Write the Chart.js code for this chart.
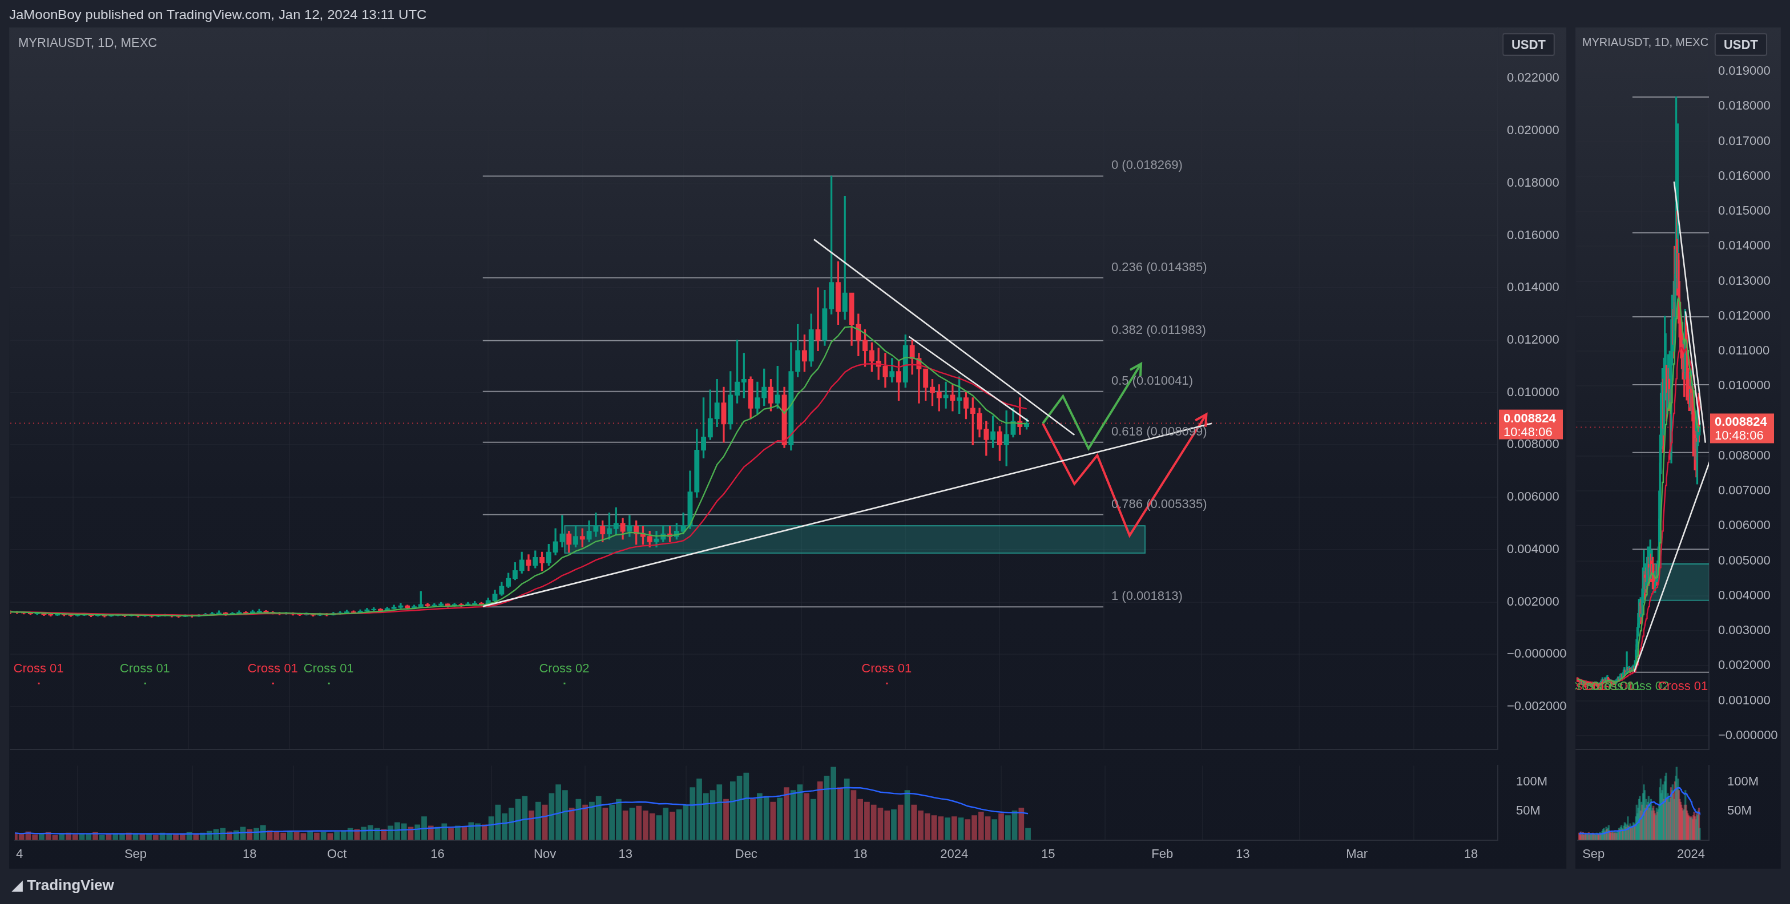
<!DOCTYPE html>
<html>
<head>
<meta charset="utf-8">
<script src="https://cdn.jsdelivr.net/npm/chart.js@4.4.1/dist/chart.umd.min.js"></script>
<style>
  html, body { margin: 0; padding: 0; background: #1e222d; overflow: hidden; }
  #wrap { position: absolute; left: 0; top: 0; width: 1568px; height: 792px; transform: scale(1.14158); transform-origin: 0 0;
          font-family: "Liberation Sans", "DejaVu Sans", sans-serif; color: #d1d4dc; }
  .pane { position: absolute; background: linear-gradient(#2a2e39, #161a25 55%, #131722); }
  .box { position: absolute; }
  .t { position: absolute; white-space: nowrap; }
  .btn { position: absolute; border: 1px solid #434651; background: #1e222d; color: #d1d4dc; font-size: 11px; font-weight: bold;
         padding: 3px 7px; border-radius: 2px; }
</style>
</head>
<body>
<div id="wrap">
  <div class="t" style="left:8px;top:6px;font-size:12px;">JaMoonBoy published on TradingView.com, Jan 12, 2024 13:11 UTC</div>
  <div class="pane" style="left:8px;top:24px;width:1364px;height:737px;"></div>
  <div class="pane" style="left:1380px;top:24px;width:180px;height:737px;"></div>
  <div class="box" style="left:8px;top:10px;width:1364px;height:661px;"><canvas id="main"></canvas></div>
  <div class="box" style="left:8px;top:656px;width:1364px;height:105px;"><canvas id="vol"></canvas></div>
  <div class="box" style="left:1380px;top:10px;width:180px;height:661px;"><canvas id="mini"></canvas></div>
  <div class="box" style="left:1380px;top:656px;width:180px;height:105px;"><canvas id="minivol"></canvas></div>
  <div class="t" style="left:16px;top:31px;font-size:11px;color:#b2b5be;">MYRIAUSDT, 1D, MEXC</div>
  <div class="t" style="left:1386px;top:31px;font-size:10px;color:#b2b5be;">MYRIAUSDT, 1D, MEXC</div>
  <div class="btn" style="left:1316px;top:29px;">USDT</div>
  <div class="btn" style="left:1502px;top:29px;">USDT</div>
  <div class="t" style="left:10px;top:768px;font-size:13px;font-weight:bold;color:#d1d4dc;">&#x25E2; TradingView</div>
</div>
<script>
// day index: 0 = 1 Sep 2023, first candle 14 Aug, last 12 Jan
const firstDay = -18;
// values in thousandths of USDT
const closes = [
  1.62,1.60,1.58,1.55,1.57,1.52,1.50,1.53,1.51,1.49,1.50,1.52,1.48,1.50,1.47,1.49,1.51,1.48,
  1.50,1.47,1.49,1.46,1.48,1.50,1.47,1.45,1.48,1.46,1.49,1.52,1.55,1.58,1.53,1.56,1.60,1.57,1.62,1.65,1.60,1.58,1.55,1.57,1.54,1.52,1.55,1.50,1.53,1.51,
  1.55,1.58,1.62,1.60,1.65,1.70,1.72,1.68,1.75,1.80,1.85,1.78,1.82,1.90,1.86,1.88,1.92,1.85,1.90,1.87,1.92,1.95,1.90,2.05,2.30,2.60,2.90,3.20,3.60,3.40,3.70,
  3.50,3.90,4.30,4.60,4.20,4.50,4.40,4.70,4.90,4.60,4.80,5.00,4.70,4.90,4.60,4.50,4.30,4.40,4.60,4.50,4.70,4.90,6.20,7.80,8.30,9.00,9.60,8.80,9.90,10.40,
  10.50,9.40,9.80,10.20,9.60,9.90,8.00,10.80,11.60,11.20,12.40,12.00,13.20,14.20,13.10,13.80,12.60,12.00,11.60,11.20,11.00,10.60,10.80,10.40,11.80,11.30,10.90,10.20,10.00,9.80,9.90,
  9.70,9.80,9.40,9.20,8.60,8.20,8.50,8.00,8.40,8.90,8.70,8.82
];
const highs = [
  1.66,1.64,1.62,1.60,1.60,1.58,1.55,1.56,1.55,1.53,1.54,1.56,1.54,1.53,1.52,1.53,1.54,1.53,
  1.54,1.52,1.52,1.50,1.51,1.53,1.52,1.49,1.51,1.50,1.52,1.56,1.60,1.66,1.60,1.60,1.66,1.63,1.68,1.72,1.67,1.63,1.60,1.60,1.59,1.57,1.58,1.56,1.57,1.56,
  1.60,1.63,1.68,1.66,1.70,1.76,1.78,1.75,1.80,1.88,1.95,1.88,1.88,2.40,1.95,1.94,1.98,1.93,1.95,1.94,1.98,2.02,1.98,2.15,2.45,2.75,3.10,3.50,3.90,3.80,3.95,
  3.90,4.20,4.80,5.30,4.70,4.90,4.80,5.10,5.40,5.10,5.40,5.60,5.20,5.30,5.10,4.90,4.70,4.70,4.90,4.90,5.00,5.40,7.00,8.60,9.80,10.10,10.50,10.20,10.80,12.00,
  11.50,10.60,10.40,10.90,10.50,11.00,10.20,11.90,12.60,12.20,13.00,14.00,13.90,18.27,15.00,17.50,13.60,13.00,12.40,11.90,11.70,11.50,11.30,11.20,12.20,12.00,11.50,10.80,10.50,10.30,10.40,
  10.30,10.60,10.00,9.80,9.40,8.90,9.10,8.70,9.30,9.40,9.80,9.00
];
const lows = [
  1.55,1.56,1.54,1.52,1.52,1.48,1.46,1.48,1.47,1.45,1.46,1.48,1.44,1.46,1.43,1.45,1.47,1.44,
  1.46,1.43,1.45,1.42,1.44,1.46,1.43,1.41,1.44,1.42,1.45,1.48,1.51,1.53,1.49,1.51,1.55,1.52,1.56,1.58,1.56,1.54,1.51,1.53,1.50,1.48,1.50,1.46,1.48,1.47,
  1.50,1.53,1.57,1.56,1.58,1.64,1.67,1.63,1.66,1.74,1.76,1.72,1.76,1.80,1.80,1.83,1.84,1.80,1.83,1.82,1.86,1.88,1.86,1.88,2.00,2.25,2.55,2.85,3.10,3.20,3.30,
  3.20,3.40,3.80,4.10,3.90,4.10,4.10,4.30,4.50,4.30,4.40,4.60,4.40,4.50,4.20,4.20,4.10,4.10,4.30,4.30,4.40,4.60,4.80,6.00,7.50,8.20,8.70,8.10,8.60,9.60,
  9.80,9.00,9.20,9.50,9.30,9.40,7.90,7.80,10.60,10.80,11.00,11.60,11.80,13.00,12.60,12.80,11.80,11.40,11.00,10.80,10.50,10.20,10.40,9.70,10.20,10.70,9.60,9.70,9.50,9.30,9.40,
  9.30,9.20,9.00,8.00,8.30,7.60,7.90,7.40,7.20,8.30,8.40,8.60
];
// volume, millions
const volumes = [
  12,10,14,9,11,13,8,10,12,9,11,10,13,8,9,11,10,12,
  10,9,11,8,12,10,9,11,13,10,12,15,18,20,14,16,22,18,20,25,16,14,12,15,13,11,14,12,13,11,
  14,16,20,18,22,25,20,18,24,30,28,22,26,40,24,22,28,20,24,22,30,28,26,40,60,45,55,70,75,50,65,
  60,80,95,85,55,70,60,65,75,55,60,70,50,55,58,50,45,42,55,48,52,60,90,105,80,85,95,70,100,110,
  115,70,80,75,65,72,90,85,95,80,70,100,110,125,90,105,85,70,65,60,55,50,52,60,85,60,50,45,42,40,38,
  40,38,35,42,48,40,35,45,42,50,55,20
];
const timeTicks = [[-17.3,'4'],[0,'Sep'],[17,'18'],[30,'Oct'],[45,'16'],[61,'Nov'],[73,'13'],[91,'Dec'],[108,'18'],[122,'2024'],[136,'15'],[153,'Feb'],[165,'13'],[182,'Mar'],[199,'18']];
const fibLevels = [[0,18.269],[0.236,14.385],[0.382,11.983],[0.5,10.041],[0.618,8.099],[0.786,5.335],[1,1.813]];
const fibStart = 52.2, fibEnd = 144.4;
const zone = { x1: 64.3, x2: 150.5, y1: 3.89, y2: 4.93 };
const supportLine = [[52.2,1.83],[160.5,8.82]];
const resistLine = [[101.4,15.85],[140.1,8.38]];
const resistLine2 = [[115.5,12.14],[133.3,8.9]];
const bullPath = [[135.4,8.82],[138.4,9.86],[142.2,7.86],[150,11.1]];
const bearPath = [[135.4,8.82],[140.1,6.51],[143.5,7.6],[148.3,4.54],[159.7,9.17]];
const crossLabels = [[-13.8,'Cross 01','red'],[2,'Cross 01','green'],[21,'Cross 01','red'],[29.3,'Cross 01','green'],[64.3,'Cross 02','green'],[112.2,'Cross 01','red']];
const lastPrice = 8.824;

const UP = '#089981', DN = '#f23645';
const days = closes.map((c, i) => firstDay + i);
const opens = closes.map((c, i) => i === 0 ? 1.64 : closes[i - 1]);
const candleCol = closes.map((c, i) => c >= opens[i] ? UP : DN);

function ema(src, n) {
  const k = 2 / (n + 1); let out = []; let e = src[0];
  src.forEach(v => { e = v * k + e * (1 - k); out.push(e); });
  return out;
}
function sma(src, n) {
  return src.map((v, i) => { const s = src.slice(Math.max(0, i - n + 1), i + 1); return s.reduce((a, b) => a + b, 0) / s.length; });
}
const emaFast = ema(closes, 9), emaSlow = ema(closes, 21), volMa = sma(volumes, 20);
const pts = arr => arr.map(p => ({ x: p[0], y: p[1] }));
const font = { family: '"Liberation Sans", "DejaVu Sans", sans-serif', size: 11 };

function priceDatasets(bodyW, mini) {
  const ds = [
    { type: 'bar', data: days.map((d, i) => ({ x: d, y: [lows[i], highs[i]] })), backgroundColor: candleCol, barThickness: 1, grouped: false, order: 5 },
    { type: 'bar', data: days.map((d, i) => ({ x: d, y: [opens[i], closes[i] === opens[i] ? closes[i] + 0.01 : closes[i]] })), backgroundColor: candleCol, barThickness: bodyW, grouped: false, order: 4 },
    { type: 'line', data: days.map((d, i) => ({ x: d, y: emaFast[i] })), borderColor: '#4caf50', borderWidth: 1.2, pointRadius: 0, order: 3 },
    { type: 'line', data: days.map((d, i) => ({ x: d, y: emaSlow[i] })), borderColor: '#d81b3c', borderWidth: 1.2, pointRadius: 0, order: 3 }
  ];
  fibLevels.forEach(f => ds.push({ type: 'line', data: [{ x: mini ? 50 : fibStart, y: f[1] }, { x: mini ? 200 : fibEnd, y: f[1] }], borderColor: 'rgba(170,172,180,0.75)', borderWidth: 1, pointRadius: 0, order: 6 }));
  [supportLine, resistLine, resistLine2].forEach(l => ds.push({ type: 'line', data: pts(l), borderColor: '#e8e8e8', borderWidth: 1.3, pointRadius: 0, order: 1 }));
  if (!mini) {
    ds.push({ type: 'line', data: pts(bullPath), borderColor: '#4caf50', borderWidth: 2, pointRadius: 0, order: 1 });
    ds.push({ type: 'line', data: pts(bearPath), borderColor: '#f23645', borderWidth: 2, pointRadius: 0, order: 1 });
  }
  return ds;
}

function arrowHead(ctx, sx, sy, path, color) {
  const a = path[path.length - 2], b = path[path.length - 1];
  const x1 = sx.getPixelForValue(a[0]), y1 = sy.getPixelForValue(a[1]);
  const x2 = sx.getPixelForValue(b[0]), y2 = sy.getPixelForValue(b[1]);
  const ang = Math.atan2(y2 - y1, x2 - x1);
  ctx.strokeStyle = color; ctx.lineWidth = 2; ctx.beginPath();
  ctx.moveTo(x2 - 11 * Math.cos(ang - 0.5), y2 - 11 * Math.sin(ang - 0.5));
  ctx.lineTo(x2, y2);
  ctx.lineTo(x2 - 11 * Math.cos(ang + 0.5), y2 - 11 * Math.sin(ang + 0.5));
  ctx.stroke();
}

function overlay(mini) {
  return {
    id: 'overlay',
    beforeDatasetsDraw(chart) {
      const { ctx, scales: { x, y }, chartArea } = chart;
      ctx.save();
      ctx.beginPath(); ctx.rect(chartArea.left, chartArea.top, chartArea.width, chartArea.height); ctx.clip();
      const zx1 = x.getPixelForValue(zone.x1), zx2 = mini ? chartArea.right : x.getPixelForValue(zone.x2);
      const zy1 = y.getPixelForValue(zone.y2), zy2 = y.getPixelForValue(zone.y1);
      ctx.fillStyle = 'rgba(38,166,154,0.28)'; ctx.fillRect(zx1, zy1, zx2 - zx1, zy2 - zy1);
      ctx.strokeStyle = 'rgba(38,166,154,0.8)'; ctx.lineWidth = 1; ctx.strokeRect(zx1 + 0.5, zy1 + 0.5, zx2 - zx1, zy2 - zy1);
      const py = y.getPixelForValue(lastPrice);
      ctx.strokeStyle = 'rgba(242,54,69,0.7)'; ctx.setLineDash([1, 3]); ctx.beginPath();
      ctx.moveTo(chartArea.left, py); ctx.lineTo(chartArea.right, py); ctx.stroke(); ctx.setLineDash([]);
      ctx.restore();
    },
    afterDatasetsDraw(chart) {
      const { ctx, scales: { x, y }, chartArea } = chart;
      ctx.save();
      ctx.font = '11px "Liberation Sans", sans-serif'; ctx.textBaseline = 'middle';
      if (!mini) {
        arrowHead(ctx, x, y, bullPath, '#4caf50');
        arrowHead(ctx, x, y, bearPath, '#f23645');
        ctx.fillStyle = '#9598a1';
        fibLevels.forEach(f => ctx.fillText(f[0] + ' (' + (f[1] / 1000).toFixed(6) + ')', x.getPixelForValue(fibEnd) + 7, y.getPixelForValue(f[1]) - 9));
      }
      ctx.textAlign = 'center';
      crossLabels.forEach(c => {
        const col = c[2] === 'red' ? '#f23645' : '#4caf50';
        const cx = x.getPixelForValue(c[0]);
        ctx.fillStyle = col;
        if (mini) { ctx.fillText(c[1], cx, y.getPixelForValue(1.4)); }
        else { ctx.fillText(c[1], cx, y.getPixelForValue(-0.55)); ctx.fillRect(cx - 0.5, y.getPixelForValue(-1.08), 1.5, 1.5); }
      });
      // price label on the axis
      const py = y.getPixelForValue(lastPrice);
      ctx.fillStyle = '#f0524f'; ctx.fillRect(chartArea.right + 1, py - 12, 56, 26);
      ctx.fillStyle = '#ffffff'; ctx.textAlign = 'left';
      ctx.font = 'bold 11px "Liberation Sans", sans-serif'; ctx.fillText((lastPrice / 1000).toFixed(6), chartArea.right + 5, py - 4);
      ctx.font = '11px "Liberation Sans", sans-serif'; ctx.fillText('10:48:06', chartArea.right + 5, py + 8);
      ctx.restore();
    }
  };
}

function yAxis(min, max, step, width) {
  return {
    position: 'right', min, max,
    grid: { color: 'rgba(42,46,57,0.35)', drawTicks: false },
    border: { color: '#2a2e39' },
    afterFit(s) { s.width = width; },
    afterBuildTicks(s) {
      const t = [];
      for (let v = Math.ceil(min / step) * step; v <= max - 0.5; v += step) t.push({ value: Math.round(v / step) * step });
      s.ticks = t;
    },
    ticks: { color: '#b2b5be', font, padding: 8, autoSkip: false,
      callback: v => (v <= 0 ? '\u2212' : '') + Math.abs(v / 1000).toFixed(6) }
  };
}
function xAxis(min, max, show, ticks) {
  return {
    type: 'linear', min, max, offset: false,
    grid: { color: 'rgba(42,46,57,0.35)', drawTicks: false },
    border: { color: '#2a2e39' },
    afterBuildTicks(s) { s.ticks = ticks.map(t => ({ value: t[0] })); },
    ticks: { display: show, color: '#b2b5be', font, padding: 6, autoSkip: false, maxRotation: 0,
      callback: v => { const t = ticks.find(q => q[0] === v); return t ? t[1] : ''; } }
  };
}
const baseOpts = { responsive: true, maintainAspectRatio: false, animation: false, devicePixelRatio: 2,
  plugins: { legend: { display: false }, tooltip: { enabled: false } }, layout: { padding: 0 } };

new Chart(document.getElementById('main'), {
  type: 'bar',
  data: { datasets: priceDatasets(3.8, false) },
  options: { ...baseOpts, scales: { x: xAxis(-18, 203, false, timeTicks), y: yAxis(-3.63, 23.92, 2, 60) } },
  plugins: [overlay(false)]
});

const volCol = closes.map((c, i) => c >= opens[i] ? 'rgba(34,171,148,0.55)' : 'rgba(247,82,95,0.5)');
function volDatasets(w) {
  return [
    { type: 'bar', data: days.map((d, i) => ({ x: d, y: volumes[i] })), backgroundColor: volCol, barThickness: w, order: 2 },
    { type: 'line', data: days.map((d, i) => ({ x: d, y: volMa[i] })), borderColor: '#2962ff', borderWidth: 1.2, pointRadius: 0, order: 1 }
  ];
}
function volY(width) {
  return { position: 'right', min: 0, max: 128, afterFit(s) { s.width = width; },
    grid: { display: false }, border: { color: '#2a2e39' },
    afterBuildTicks(s) { s.ticks = [{ value: 50 }, { value: 100 }]; },
    ticks: { color: '#b2b5be', font, padding: 8, callback: v => v + 'M' } };
}
new Chart(document.getElementById('vol'), {
  type: 'bar',
  data: { datasets: volDatasets(4.2) },
  options: { ...baseOpts, scales: { x: xAxis(-18, 203, true, timeTicks), y: volY(60) } }
});

new Chart(document.getElementById('mini'), {
  type: 'bar',
  data: { datasets: priceDatasets(1, true) },
  options: { ...baseOpts, scales: { x: xAxis(-19.6, 144.5, false, [[0, 'Sep'], [122, '2024']]), y: yAxis(-0.39, 20.24, 1, 63) } },
  plugins: [overlay(true)]
});
new Chart(document.getElementById('minivol'), {
  type: 'bar',
  data: { datasets: volDatasets(1) },
  options: { ...baseOpts, scales: { x: xAxis(-19.6, 144.5, true, [[0, 'Sep'], [122, '2024']]), y: volY(63) } }
});
</script>
</body>
</html>
